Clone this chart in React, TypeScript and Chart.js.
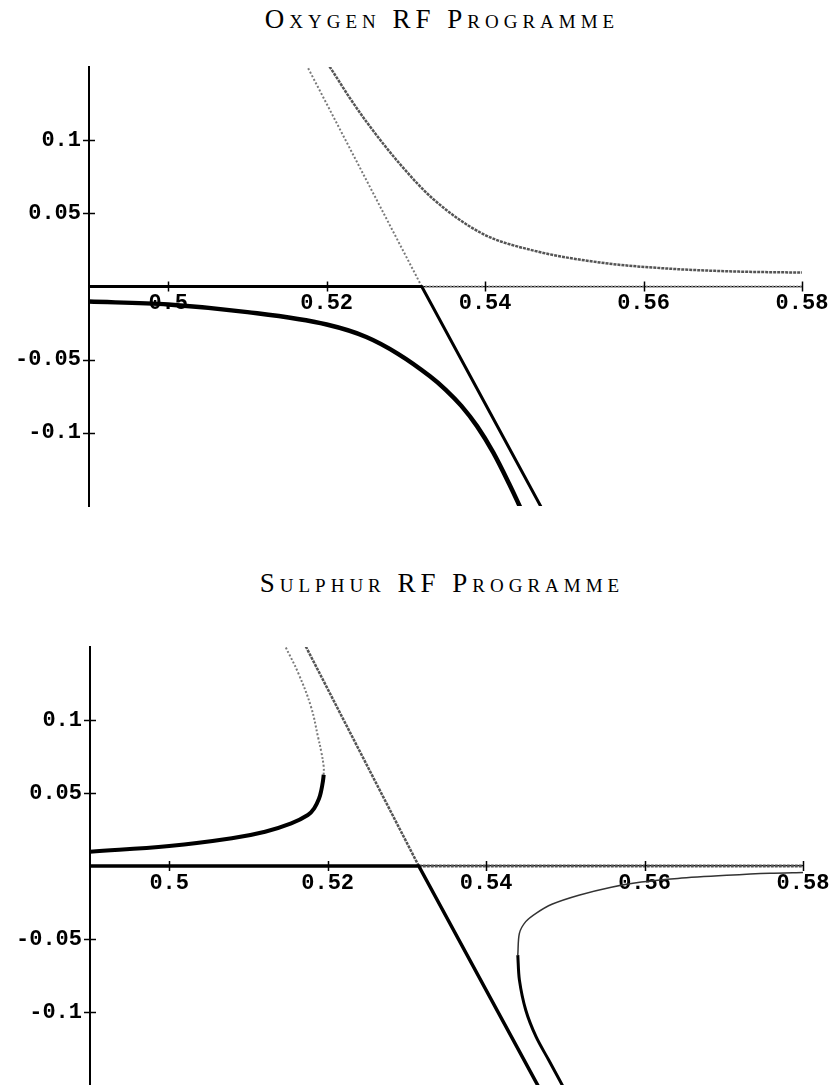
import React, { useEffect, useRef } from "react";
import { Chart, registerables } from "chart.js";
Chart.register(...registerables);

// ---------- axes ----------
const X_MIN = 0.49;
const X_MAX = 0.58;
const Y_MIN = -0.15;
const Y_MAX = 0.15;
const xTickValues = [0.5, 0.52, 0.54, 0.56, 0.58];
const xTickLabels = ["0.5", "0.52", "0.54", "0.56", "0.58"];
const yTickValues = [0.1, 0.05, -0.05, -0.1];
const yTickLabels = ["0.1", "0.05", "-0.05", "-0.1"];

// ---------- Oxygen RF programme ----------
const oxyStableX = [0.49, 0.5, 0.51, 0.52, 0.525, 0.529, 0.533, 0.535, 0.537, 0.539, 0.541, 0.543, 0.5441, 0.546];
const oxyStableY = [-0.0103, -0.0123, -0.0175, -0.026, -0.0345, -0.046, -0.0612, -0.0704, -0.0816, -0.0956, -0.1132, -0.1344, -0.147, -0.17];
const oxySwitchX = [0.49, 0.532, 0.548];
const oxySwitchY = [0, 0, -0.16];
const oxyUnstableLineX = [0.532, 0.5171];
const oxyUnstableLineY = [0, 0.155];
const oxyUnstableAxisX = [0.532, 0.58];
const oxyUnstableAxisY = [0, 0];
const oxyUpperX = [0.5195, 0.5204, 0.5229, 0.5251, 0.5292, 0.5334, 0.5397, 0.546, 0.5545, 0.5629, 0.5713, 0.58];
const oxyUpperY = [0.157, 0.15, 0.129, 0.112, 0.084, 0.06, 0.036, 0.0247, 0.0164, 0.0123, 0.0103, 0.0095];

// ---------- Sulphur RF programme ----------
const sulStableX = [0.49, 0.5, 0.5079, 0.5121, 0.5154, 0.5175, 0.5183, 0.5189, 0.5192, 0.5194, 0.5195];
const sulStableY = [0.0098, 0.0137, 0.019, 0.0235, 0.0292, 0.0349, 0.0395, 0.046, 0.052, 0.058, 0.0625];
const sulUpperBranchX = [0.5195, 0.5195, 0.5192, 0.5188, 0.5179, 0.5163, 0.5146, 0.5142];
const sulUpperBranchY = [0.0625, 0.068, 0.078, 0.088, 0.109, 0.132, 0.151, 0.156];
const sulSwitchX = [0.49, 0.5315, 0.5475];
const sulSwitchY = [0, 0, -0.16];
const sulUnstableLineX = [0.5315, 0.5168];
const sulUnstableLineY = [0, 0.155];
const sulUnstableAxisX = [0.5315, 0.58];
const sulUnstableAxisY = [0, 0];
const sulLowerGreyX = [0.58, 0.5758, 0.5704, 0.5642, 0.5596, 0.5558, 0.5517, 0.5483, 0.5463, 0.545, 0.5442, 0.544];
const sulLowerGreyY = [-0.0045, -0.005, -0.0064, -0.0085, -0.011, -0.0145, -0.02, -0.0262, -0.0324, -0.0381, -0.0461, -0.061];
const sulLowerSolidX = [0.544, 0.5442, 0.545, 0.5463, 0.5479, 0.5506];
const sulLowerSolidY = [-0.061, -0.078, -0.0986, -0.1169, -0.1329, -0.16];

const zip = (xs: number[], ys: number[]) => xs.map((x, i) => ({ x, y: ys[i] }));

type Style = { color: string; width: number; dash?: number[]; tension?: number; mono?: boolean };
const STABLE: Style = { color: "#000", width: 4.5, mono: true };
const SWITCH: Style = { color: "#000", width: 3, tension: 0 };
const UNSTABLE: Style = { color: "#7a7a7a", width: 2, dash: [2, 2], tension: 0 };
const UNSTABLE_CURVE: Style = { color: "#555", width: 2.5, dash: [3, 1], mono: true };

const ds = (xs: number[], ys: number[], s: Style) => ({
  data: zip(xs, ys),
  showLine: true,
  borderColor: s.color,
  backgroundColor: s.color,
  borderWidth: s.width,
  borderDash: s.dash || [],
  tension: s.mono ? 0.4 : s.tension || 0,
  cubicInterpolationMode: s.mono ? "monotone" : "default",
  pointRadius: 0,
  borderCapStyle: "butt",
  borderJoinStyle: "round",
});

const crossTicks = {
  id: "crossTicks",
  afterDatasetsDraw(chart: any) {
    const { ctx, scales, chartArea } = chart;
    const x = scales.x;
    const y = scales.y;
    const y0 = y.getPixelForValue(0);
    ctx.save();
    ctx.strokeStyle = "#000";
    ctx.lineWidth = 1.5;
    x.ticks.forEach((t: any) => {
      const px = Math.round(x.getPixelForValue(t.value)) + 0.5;
      ctx.beginPath();
      ctx.moveTo(px, y0 - 5);
      ctx.lineTo(px, y0 + 5);
      ctx.stroke();
    });
    y.ticks.forEach((t: any) => {
      const py = Math.round(y.getPixelForValue(t.value)) + 0.5;
      ctx.beginPath();
      ctx.moveTo(chartArea.left - 6, py);
      ctx.lineTo(chartArea.left + 6, py);
      ctx.stroke();
    });
    ctx.restore();
  },
};

type PlotProps = {
  datasets: any[];
  top: number;
  height: number;
  padTop: number;
  padBottom: number;
  axisWidth: number;
  padRight: number;
};

function Plot({ datasets, top, height, padTop, padBottom, axisWidth, padRight }: PlotProps) {
  const ref = useRef<HTMLCanvasElement | null>(null);
  useEffect(() => {
    if (!ref.current) return;
    const tickFont = { family: "'Liberation Mono', 'DejaVu Sans Mono', monospace", size: 22, weight: "bold" as const };
    const chart = new Chart(ref.current, {
      type: "scatter",
      data: { datasets },
      plugins: [crossTicks],
      options: {
        responsive: false,
        animation: false,
        events: [],
        layout: { padding: { top: padTop, bottom: padBottom, left: 0, right: padRight } },
        plugins: { legend: { display: false }, tooltip: { enabled: false }, title: { display: false } },
        scales: {
          x: {
            type: "linear",
            min: X_MIN,
            max: X_MAX,
            position: { y: 0 },
            border: { display: true, color: "#000", width: 1.2 },
            grid: { display: true, drawOnChartArea: false, drawTicks: false },
            ticks: {
              padding: 4,
              color: "#000",
              font: tickFont,
              maxRotation: 0,
              autoSkip: false,
              callback: (v: any, i: number) => xTickLabels[i],
            },
            afterBuildTicks: (s: any) => {
              s.ticks = xTickValues.map((v) => ({ value: v }));
            },
            afterFit: (s: any) => {
              s.paddingLeft = 0;
              s.paddingRight = 0;
              s.paddingTop = 0;
              s.paddingBottom = 0;
            },
          },
          y: {
            type: "linear",
            min: Y_MIN,
            max: Y_MAX,
            position: "left",
            border: { display: true, color: "#000", width: 2 },
            grid: { display: true, drawOnChartArea: false, drawTicks: false },
            ticks: {
              padding: 8,
              color: "#000",
              font: tickFont,
              autoSkip: false,
              callback: (v: any, i: number) => yTickLabels[i],
            },
            afterBuildTicks: (s: any) => {
              s.ticks = yTickValues.map((v) => ({ value: v }));
            },
            afterFit: (s: any) => {
              s.width = axisWidth;
              s.paddingLeft = 0;
              s.paddingRight = 0;
              s.paddingTop = 0;
              s.paddingBottom = 0;
            },
          },
        },
      } as any,
    });
    return () => chart.destroy();
  }, []);
  return (
    <canvas
      ref={ref}
      width={831}
      height={height}
      style={{ position: "absolute", left: 0, top, width: 831, height }}
    />
  );
}

const titleStyle = (top: number): React.CSSProperties => ({
  position: "absolute",
  left: 42,
  width: 800,
  top,
  height: 30,
  lineHeight: "30px",
  textAlign: "center",
  fontFamily: "'Liberation Serif', 'DejaVu Serif', serif",
  fontVariant: "small-caps",
  fontSize: 27,
  letterSpacing: "5px",
  color: "#000",
  whiteSpace: "nowrap",
});

export default function App() {
  const oxygen = [
    ds(oxyStableX, oxyStableY, STABLE),
    ds(oxySwitchX, oxySwitchY, SWITCH),
    ds(oxyUnstableLineX, oxyUnstableLineY, UNSTABLE),
    ds(oxyUnstableAxisX, oxyUnstableAxisY, { color: "#8a8a8a", width: 2, dash: [2, 1.5] }),
    ds(oxyUpperX, oxyUpperY, UNSTABLE_CURVE),
  ];
  const sulphur = [
    ds(sulStableX, sulStableY, { color: "#000", width: 4, tension: 0.4 }),
    ds(sulUpperBranchX, sulUpperBranchY, { ...UNSTABLE, tension: 0.4 }),
    ds(sulSwitchX, sulSwitchY, { ...SWITCH, width: 3.5 }),
    ds(sulUnstableLineX, sulUnstableLineY, { color: "#555", width: 2.5, dash: [3, 1] }),
    ds(sulUnstableAxisX, sulUnstableAxisY, { color: "#555", width: 3, dash: [3, 1] }),
    ds(sulLowerGreyX, sulLowerGreyY, { color: "#333", width: 1.5, tension: 0.3 }),
    ds(sulLowerSolidX, sulLowerSolidY, { color: "#000", width: 3, tension: 0.3 }),
  ];
  return (
    <div style={{ position: "absolute", left: 0, top: 0, width: 831, height: 1085, background: "#fff", overflow: "hidden" }}>
      <div style={titleStyle(4)}>Oxygen RF Programme</div>
      <Plot datasets={oxygen} top={50} height={470} padTop={17} padBottom={14} axisWidth={89} padRight={29} />
      <div style={titleStyle(568)}>Sulphur RF Programme</div>
      <Plot datasets={sulphur} top={629} height={456} padTop={18} padBottom={0} axisWidth={90} padRight={28} />
    </div>
  );
}
